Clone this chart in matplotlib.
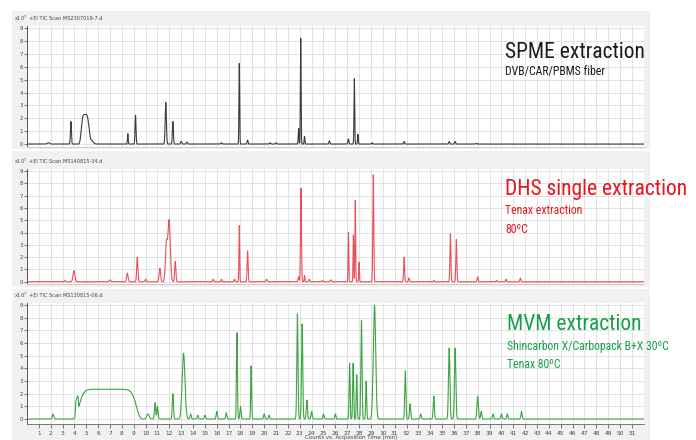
import numpy as np
import matplotlib
matplotlib.use("Agg")
import matplotlib.pyplot as plt
from matplotlib import font_manager
from matplotlib.patches import Rectangle

# ---------------- data (peaks) ----------------
# retention time (min), height (x10^7 counts), width (min), shape exponent
spme_rt = [1.8, 3.7, 4.9, 5.4, 8.5, 9.15, 11.7, 12.3, 13.0, 13.5, 16.4, 17.9, 18.6,
           20.5, 21.0, 22.9, 23.08, 23.4, 25.5, 27.1, 27.6, 27.9, 29.1, 31.8, 35.6, 36.1, 37.9]
spme_h = [0.1, 1.75, 2.3, 0.3, 0.8, 2.25, 3.25, 1.75, 0.2, 0.15, 0.1, 6.3, 0.3,
          0.1, 0.1, 1.2, 8.25, 0.6, 0.25, 0.4, 5.1, 0.75, 0.1, 0.2, 0.2, 0.2, 0.05]
spme_w = [0.1, 0.04, 0.3, 0.15, 0.03, 0.04, 0.05, 0.04, 0.05, 0.05, 0.05, 0.03, 0.04,
          0.05, 0.05, 0.03, 0.03, 0.03, 0.04, 0.04, 0.03, 0.03, 0.04, 0.04, 0.04, 0.04, 0.05]
spme_p = [2, 2, 4] + [2] * 24

dhs_rt = [3.2, 3.96, 7.0, 8.46, 9.3, 10.0, 11.2, 11.75, 11.98, 12.5, 15.7, 16.4, 17.5,
          17.9, 18.6, 20.2, 22.9, 23.1, 23.4, 23.8, 24.9, 25.6, 27.1, 27.52, 27.68, 28.0,
          29.2, 31.8, 32.2, 34.3, 35.7, 36.2, 38.0, 39.6, 40.4, 41.6]
dhs_h = [0.1, 0.9, 0.15, 0.7, 2.0, 0.2, 1.1, 3.0, 5.0, 1.65, 0.2, 0.2, 0.2,
         4.6, 2.5, 0.2, 0.4, 7.6, 0.5, 0.2, 0.1, 0.15, 4.0, 3.8, 6.6, 1.6,
         8.7, 2.0, 0.3, 0.1, 3.9, 3.45, 0.4, 0.1, 0.2, 0.3]
dhs_w = [0.05, 0.08, 0.06, 0.06, 0.05, 0.05, 0.06, 0.08, 0.1, 0.05, 0.04, 0.04, 0.04,
         0.03, 0.04, 0.05, 0.04, 0.04, 0.03, 0.04, 0.05, 0.05, 0.03, 0.03, 0.03, 0.03,
         0.04, 0.04, 0.04, 0.05, 0.04, 0.04, 0.04, 0.05, 0.04, 0.04]

mvm_rt = [2.2, 4.2, 6.8, 10.2, 10.8, 11.0, 12.3, 13.2, 13.8, 14.4, 15.0, 16.0, 16.8,
          17.7, 18.0, 18.9, 20.0, 20.4, 22.8, 23.2, 23.6, 24.0, 25.0, 26.0, 27.2, 27.5,
          27.8, 28.2, 28.6, 29.3, 31.9, 32.3, 33.2, 34.3, 35.6, 36.1, 38.0, 38.3, 39.3,
          40.0, 40.5, 41.7]
mvm_h = [0.4, 1.2, 2.35, 0.4, 1.3, 1.0, 2.0, 5.2, 0.4, 0.3, 0.3, 0.6, 0.5,
         6.8, 1.0, 4.2, 0.4, 0.3, 8.3, 7.5, 1.5, 0.6, 0.4, 0.4, 4.4, 4.4,
         3.5, 7.8, 3.0, 9.0, 3.8, 1.2, 0.4, 1.8, 5.6, 5.6, 1.8, 0.6, 0.4,
         0.4, 0.4, 0.6]
mvm_w = [0.06, 0.12, 2.3, 0.1, 0.05, 0.05, 0.05, 0.12, 0.05, 0.05, 0.05, 0.05, 0.05,
         0.04, 0.05, 0.04, 0.05, 0.05, 0.05, 0.05, 0.05, 0.05, 0.05, 0.05, 0.04, 0.04,
         0.04, 0.05, 0.04, 0.1, 0.05, 0.05, 0.05, 0.05, 0.06, 0.06, 0.06, 0.05, 0.05,
         0.05, 0.05, 0.05]
mvm_p = [2, 6, 10] + [2] * 39

x_ticks = list(range(1, 52))
y_ticks = list(range(0, 10))

panel_titles = ["+EI TIC Scan MS2307019-7.d", "+EI TIC Scan MS140815-34.d",
                "+EI TIC Scan MS130815-06.d"]
big_labels = ["SPME extraction", "DHS single extraction", "MVM extraction"]
sub_labels = [["DVB/CAR/PBMS fiber"],
              ["Tenax extraction", "80ºC"],
              ["Shincarbon X/Carbopack B+X 30ºC", "Tenax 80ºC"]]
x_label = "Counts vs. Acquisition Time (min)"

# ---------------- helpers ----------------
W, H = 696, 440
t = np.linspace(0, 52, 8000)


def trace(rt, h, w, p=None):
    y = np.zeros_like(t)
    if p is None:
        p = [2] * len(rt)
    for r, a, s, e in zip(rt, h, w, p):
        y += a * np.exp(-0.5 * np.abs((t - r) / s) ** e)
    return y


def rect(x0, x1, ytop, ybot):
    return [x0 / W, 1 - ybot / H, (x1 - x0) / W, (ybot - ytop) / H]


names = {f.name for f in font_manager.fontManager.ttflist}
narrow = None
for cand in ["Liberation Sans Narrow", "Roboto Condensed", "Open Sans Condensed"]:
    if cand in names:
        narrow = cand
        break
big_font = dict(family=narrow) if narrow else dict(family="DejaVu Sans", stretch="condensed")

fig = plt.figure(figsize=(W / 100, H / 100), dpi=100)
fig.patch.set_facecolor("white")

# panel geometry (pixels): x0, x1, ytop, ybot, ylim lower, grey box top/bottom
panels = [
    (27, 643.7, 26.4, 146.6, -0.2, 11, 149),
    (27, 643.7, 169.2, 284.2, -0.2, 151, 287),
    (27, 643.7, 303.1, 424.1, -0.4, 289, 440),
]
traces = [trace(spme_rt, spme_h, spme_w, spme_p),
          trace(dhs_rt, dhs_h, dhs_w),
          trace(mvm_rt, mvm_h, mvm_w, mvm_p)]
line_colors = ["#3c3c3c", "#e9505c", "#3ea443"]
text_colors = ["#1c1c1c", "#e8141e", "#17a04a"]
label_pos = [(505, 52, [72]), (505, 189, [211, 229]), (507, 324, [346, 364])]

for i, (x0, x1, yt, yb, ylo, gt, gb) in enumerate(panels):
    fig.patches.append(Rectangle((12 / W, 1 - gb / H), (650 - 12) / W, (gb - gt) / H,
                                 transform=fig.transFigure, facecolor="#f1f1f1",
                                 edgecolor="none", zorder=-10))
    ax = fig.add_axes(rect(x0, x1, yt, yb))
    ax.set_facecolor("white")
    ax.plot(t, traces[i], color=line_colors[i], lw=0.8)
    ax.set_xlim(0, 52)
    ax.set_ylim(ylo, 9.15)
    ax.set_xticks(x_ticks)
    ax.set_yticks(y_ticks)
    ax.grid(True, color="#dedede", lw=0.6)
    ax.set_axisbelow(True)
    for s in ["top", "right"]:
        ax.spines[s].set_visible(False)
    ax.spines["left"].set_color("#555555")
    ax.spines["left"].set_linewidth(0.7)
    ax.spines["bottom"].set_color("#777777")
    ax.spines["bottom"].set_linewidth(0.7)
    ax.tick_params(axis="y", labelsize=4, length=2, width=0.5, pad=1, colors="#444444")
    if i < 2:
        ax.tick_params(axis="x", length=0, labelbottom=False)
        ax.spines["bottom"].set_color("#cccccc")
    else:
        ax.tick_params(axis="x", labelsize=4.2, length=3, width=0.5, pad=2, colors="#444444")
    fig.text(14 / W, 1 - (yt - 8) / H, "x10$^{7}$", fontsize=3.6, color="#444444",
             va="center", ha="left")
    fig.text(29 / W, 1 - (yt - 8) / H, panel_titles[i], fontsize=3.6, color="#444444",
             va="center", ha="left")
    lx, ly, subs = label_pos[i]
    fig.text(lx / W, 1 - ly / H, big_labels[i], fontsize=15.5, color=text_colors[i],
             va="center", ha="left", **big_font)
    for s_txt, sy in zip(sub_labels[i], subs):
        fig.text(lx / W, 1 - sy / H, s_txt, fontsize=8.5, color=text_colors[i],
                 va="center", ha="left", **big_font)

fig.text(305 / W, 1 - 437 / H, x_label, fontsize=4, color="#444444", va="center", ha="left")

fig.savefig("out.png", dpi=100, facecolor="white")
